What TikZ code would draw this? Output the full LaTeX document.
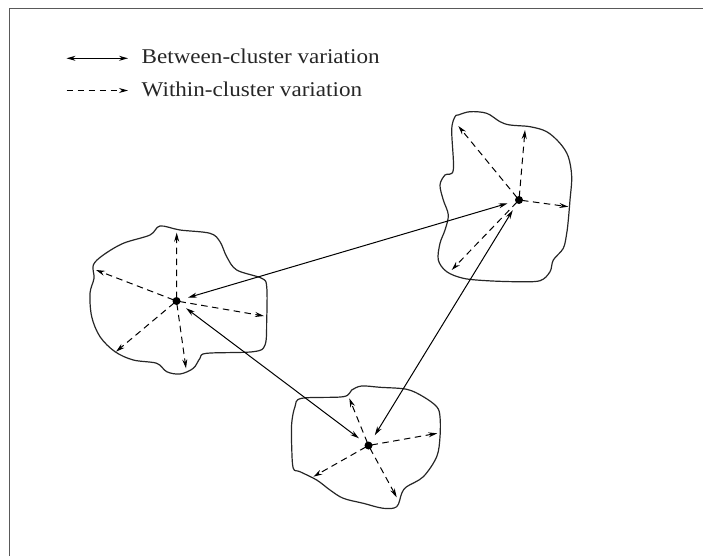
\documentclass[tikz,border=0pt]{standalone}
\usepackage{fontspec}
\setmainfont[FakeStretch=1.1]{Liberation Serif}
\usetikzlibrary{positioning,calc,arrows.meta}

\begin{document}
\begin{tikzpicture}[x=1pt,y=-1pt,
  tip/.style={-{Stealth[length=9pt,width=5pt]}},
  between/.style={{Stealth[length=9pt,width=5pt]}-{Stealth[length=9pt,width=5pt]}, line width=1pt, shorten <=12pt, shorten >=12pt},
  within/.style={tip, line width=1pt, dash pattern=on 6.5pt off 4.5pt, shorten <=3pt},
  blob/.style={line width=1.2pt, black!85},
  legend/.style={anchor=base west, inner sep=0pt, font=\fontsize{21}{26}\selectfont, text=black!85}]
\useasboundingbox (0,0) rectangle (703,556);
% Frame
\draw[line width=1.6pt, black!65] (9.5,556) -- (9.5,8.5) -- (703,8.5);
% Legend
\node[legend] (btw) at (141.5,64) {Between-cluster variation};
\node[legend] (wth) at (141.5,96.5) {Within-cluster variation};
\coordinate (b1) at (66.5,58.3);
\coordinate (b2) at (128,58.3);
\coordinate (w1) at (66.5,90.5);
\coordinate (w2) at (128,90.5);
\draw[{Stealth[length=9pt,width=5pt]}-{Stealth[length=9pt,width=5pt]}, line width=1pt] (b1) -- (b2);
\draw[tip, line width=1pt, dash pattern=on 6.5pt off 4.5pt] (w1) -- (w2);
% Cluster outlines
\draw[blob] plot[smooth cycle, tension=0.55] coordinates {
  (160,226) (150,235) (123.3,243.3) (103.3,255) (93.3,265) (94,278.3) (90,293.3)
  (91.7,316.7) (100,336.7) (115,351.7) (133.3,360) (156.7,363.3) (166.7,371.7)
  (180,374) (193.3,368.3) (200,358.3) (206.7,353.3) (253.3,351.7) (265,345)
  (266.7,320) (266.7,286.7) (261.7,278.3) (236.7,270) (226.7,256.7) (220,241.7)
  (210,233.3) (180,230)};
\draw[blob] plot[smooth cycle, tension=0.55] coordinates {
  (455,116.7) (451.7,130) (453.3,170) (445,175) (440,185) (443.3,200) (448.3,215)
  (445,230) (440,243.3) (438.3,260) (446.7,271.7) (463.3,278.3) (486.7,280.7)
  (516.7,281.7) (540,280.7) (550,271.7) (553.3,260) (563.3,248.3) (566.7,233.3)
  (568.3,220) (570,200) (571.7,176.7) (568.3,156.7) (560,143.3) (546.7,131.7)
  (530,126.7) (510,125) (500,121.7) (486.7,113.3) (470,111.7) (458.3,115)};
\draw[blob] plot[smooth cycle, tension=0.55] coordinates {
  (301.7,398.3) (343.3,396.7) (351.7,390) (361.7,386) (380,387.3) (406.7,389.3)
  (423.3,396.7) (436.7,406.7) (440,416.7) (440,436.7) (436.7,456.7) (423.3,476.7)
  (406.7,486.7) (401.7,493.3) (396.7,506.7) (383.3,508.3) (363.3,503.3)
  (343.3,498.3) (330,490) (316.7,480) (300,471.7) (293.3,468.3) (291.7,446.7)
  (291.7,423.3) (295,406.7)};
% Centroids
\coordinate (cL) at (176.5,301);
\coordinate (cR) at (519,200);
\coordinate (cB) at (368.5,445.5);
\foreach \c in {cL,cR,cB} \fill (\c) circle (4pt);
% Within-cluster variation
\foreach \p in {(176.7,232.7),(96,270),(264,316),(116,351.7),(186,368.3)}
  \draw[within] (cL) -- \p;
\foreach \p in {(458.3,126),(525,130),(568.3,206.7),(451.7,270)}
  \draw[within] (cR) -- \p;
\foreach \p in {(349.3,398.3),(437.3,433.3),(313.3,476.7),(396.7,497.3)}
  \draw[within] (cB) -- \p;
% Between-cluster variation
\draw[between] (cL) -- (cR);
\draw[between] (cL) -- (cB);
\draw[between] (cR) -- (cB);
\end{tikzpicture}
\end{document}
